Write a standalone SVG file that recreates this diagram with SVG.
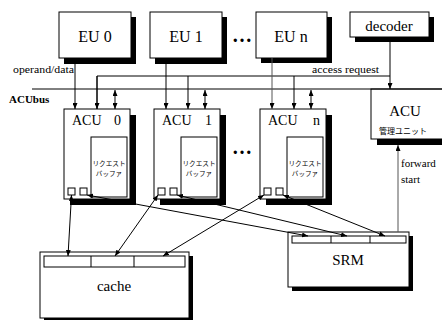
<svg xmlns="http://www.w3.org/2000/svg" width="442" height="320" viewBox="0 0 442 320">
<style>
.box{fill:#fff;stroke:#000;stroke-width:1}
.sh{fill:#000;stroke:none}
.ln{fill:none;stroke:#000;stroke-width:1}
.gl{fill:none;stroke:#555;stroke-width:1}
.t{font-family:"Liberation Serif","Times New Roman",serif;fill:#000}
.j{font-family:"Noto Sans CJK JP",sans-serif;fill:#000}
</style>
<defs>
<marker id="ah" markerUnits="userSpaceOnUse" markerWidth="6" markerHeight="5" refX="6" refY="2.5" orient="auto-start-reverse"><path d="M0,0 L6,2.5 L0,5 z" fill="#000"/></marker>
</defs>
<rect width="442" height="320" fill="#fff"/>

<g id="eu0"><rect class="sh" x="64" y="17" width="72" height="47"/><rect class="box" x="59" y="12" width="72" height="46"/><text class="t" x="95" y="42" font-size="16" text-anchor="middle">EU 0</text></g>
<g id="eu1"><rect class="sh" x="155" y="17" width="72" height="47"/><rect class="box" x="150" y="12" width="72" height="46"/><text class="t" x="186" y="42" font-size="16" text-anchor="middle">EU 1</text></g>
<g id="dots1"><text class="t" x="242" y="42" font-size="20" font-weight="bold" text-anchor="middle">…</text></g>
<g id="eun"><rect class="sh" x="261" y="17" width="71" height="46"/><rect class="box" x="256" y="12" width="71" height="46"/><text class="t" x="291" y="42" font-size="16" text-anchor="middle">EU n</text></g>
<g id="decoder"><rect class="sh" x="355" y="17" width="79" height="25"/><rect class="box" x="350" y="12" width="79" height="25"/><text class="t" x="389" y="31" font-size="15" text-anchor="middle">decoder</text></g>

<g id="labels">
<text class="t" x="13" y="73" font-size="11" textLength="61" lengthAdjust="spacingAndGlyphs">operand/data</text>
<text class="t" x="312" y="73" font-size="11" textLength="67" lengthAdjust="spacingAndGlyphs">access request</text>
<text class="t" x="9" y="103" font-size="11" font-weight="bold">ACUbus</text>
<text class="t" x="401" y="167" font-size="11">forward</text>
<text class="t" x="401" y="183" font-size="11">start</text>
</g>

<g id="acu-mgr"><rect class="sh" x="377" y="95" width="80" height="50"/><rect class="box" x="371" y="89" width="80" height="50"/><text class="t" x="405" y="116" font-size="15" text-anchor="middle">ACU</text><text class="j" x="403" y="134" font-size="8" text-anchor="middle">管理ユニット</text></g>

<g id="acu0"><rect class="sh" x="70" y="115" width="66" height="90"/><rect class="box" x="64" y="109" width="66" height="90"/>
<text class="t" y="125" font-size="14"><tspan x="72">ACU</tspan><tspan x="114">0</tspan></text>
<rect class="box" x="91" y="137" width="36" height="60"/>
<text class="j" x="109" y="166" font-size="6.6" text-anchor="middle">リクエスト</text><text class="j" x="109" y="176" font-size="6.6" text-anchor="middle">バッファ</text>
<rect class="box" x="68" y="188" width="7" height="7"/><rect class="box" x="80" y="188" width="7" height="7"/></g>

<g id="acu1"><rect class="sh" x="160" y="115" width="66" height="90"/><rect class="box" x="154" y="109" width="66" height="90"/>
<text class="t" y="125" font-size="14"><tspan x="162">ACU</tspan><tspan x="205">1</tspan></text>
<rect class="box" x="181" y="137" width="36" height="60"/>
<text class="j" x="199" y="166" font-size="6.6" text-anchor="middle">リクエスト</text><text class="j" x="199" y="176" font-size="6.6" text-anchor="middle">バッファ</text>
<rect class="box" x="158" y="188" width="7" height="7"/><rect class="box" x="170" y="188" width="7" height="7"/></g>

<g id="dots2"><text class="t" x="242" y="154" font-size="20" font-weight="bold" text-anchor="middle">…</text></g>

<g id="acun"><rect class="sh" x="266" y="115" width="66" height="90"/><rect class="box" x="260" y="109" width="66" height="90"/>
<text class="t" y="125" font-size="14"><tspan x="268">ACU</tspan><tspan x="313">n</tspan></text>
<rect class="box" x="287" y="137" width="36" height="60"/>
<text class="j" x="305" y="166" font-size="6.6" text-anchor="middle">リクエスト</text><text class="j" x="305" y="176" font-size="6.6" text-anchor="middle">バッファ</text>
<rect class="box" x="264" y="188" width="7" height="7"/><rect class="box" x="276" y="188" width="7" height="7"/></g>

<g id="cache"><rect class="sh" x="44" y="256" width="149" height="66"/><rect class="box" x="40" y="252" width="149" height="66"/>
<rect class="box" x="44" y="256" width="141" height="11"/><line class="ln" x1="91" y1="256" x2="91" y2="267"/><line class="ln" x1="134" y1="256" x2="134" y2="267"/>
<text class="t" x="114" y="291" font-size="15" text-anchor="middle">cache</text></g>

<g id="srm"><rect class="sh" x="292" y="236" width="121" height="55"/><rect class="box" x="288" y="232" width="121" height="55"/>
<rect class="box" x="292" y="236" width="114" height="7"/><line class="ln" x1="331" y1="236" x2="331" y2="243"/><line class="ln" x1="370" y1="236" x2="370" y2="243"/>
<text class="t" x="348" y="265" font-size="15" text-anchor="middle">SRM</text></g>

<g id="connectors">
<line class="ln" x1="32" y1="89" x2="442" y2="89"/>
<path class="ln" d="M97,109 V76 H390"/>
<line class="ln" x1="390" y1="37" x2="390" y2="89" marker-end="url(#ah)"/>
<line class="ln" x1="97" y1="76" x2="97" y2="109" marker-end="url(#ah)"/>
<line class="ln" x1="188" y1="76" x2="188" y2="109" marker-end="url(#ah)"/>
<line class="ln" x1="294" y1="76" x2="294" y2="109" marker-end="url(#ah)"/>
<line class="ln" x1="75" y1="58" x2="75" y2="109" marker-end="url(#ah)"/>
<line class="ln" x1="166" y1="58" x2="166" y2="109" marker-end="url(#ah)"/>
<line class="gl" x1="272" y1="58" x2="272" y2="109" marker-end="url(#ah)"/>
<line class="ln" x1="115" y1="90" x2="115" y2="109" marker-start="url(#ah)" marker-end="url(#ah)"/>
<line class="ln" x1="205" y1="90" x2="205" y2="109" marker-start="url(#ah)" marker-end="url(#ah)"/>
<line class="ln" x1="311" y1="90" x2="311" y2="109" marker-start="url(#ah)" marker-end="url(#ah)"/>
<line class="gl" x1="398" y1="232" x2="398" y2="145" marker-end="url(#ah)"/>
<line class="ln" x1="71.5" y1="195" x2="68" y2="256" marker-start="url(#ah)" marker-end="url(#ah)"/>
<line class="ln" x1="87" y1="195" x2="308" y2="236" marker-start="url(#ah)" marker-end="url(#ah)"/>
<line class="ln" x1="158" y1="195" x2="115" y2="256" marker-start="url(#ah)" marker-end="url(#ah)"/>
<line class="ln" x1="177" y1="195" x2="347" y2="236" marker-start="url(#ah)" marker-end="url(#ah)"/>
<line class="ln" x1="264" y1="195" x2="163" y2="256" marker-start="url(#ah)" marker-end="url(#ah)"/>
<line class="ln" x1="283" y1="195" x2="385" y2="236" marker-start="url(#ah)" marker-end="url(#ah)"/>
</g>
</svg>
